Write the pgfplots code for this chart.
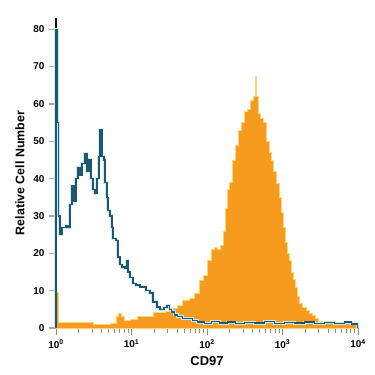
\documentclass[border=0pt]{standalone}
\usepackage{pgfplots}
\pgfplotsset{compat=1.18}
\usepackage{fontspec}
\setmainfont{Liberation Sans}
\definecolor{orfill}{RGB}{247,155,30}
\definecolor{oredge}{RGB}{245,215,120}
\definecolor{bline}{RGB}{30,88,108}
\definecolor{bglow}{RGB}{205,232,246}
\begin{document}
\begin{tikzpicture}
\path[use as bounding box] (-56bp,-47bp) rectangle (319bp,328bp);
\begin{axis}[
  at={(0,0)}, anchor=south west,
  scale only axis, width=302bp, height=310bp,
  xmode=log, xmin=1, xmax=10000, ymin=0, ymax=83,
  axis x line*=bottom, axis y line*=left,
  axis line style={black, line width=1.6bp},
  xtick={1,10,100,1000,10000},
  xticklabels={10\textsuperscript{0},10\textsuperscript{1},10\textsuperscript{2},10\textsuperscript{3},10\textsuperscript{4}},
  ytick={0,10,20,30,40,50,60,70,80},
  yticklabels={0,10,20,30,40,50,60,70,80},
  tick align=outside,
  major tick length=7bp, minor tick length=5bp,
  every tick/.style={black!45, line width=0.9bp},
  ytick style={black!35, line width=1.2bp},
  y tick label style={font=\bfseries\fontsize{10}{12}\selectfont, xshift=-1bp},
  x tick label style={font=\bfseries\fontsize{10}{12}\selectfont, yshift=-1bp},
  xlabel={\bfseries\fontsize{13}{15}\selectfont CD97},
  ylabel={\bfseries\fontsize{12.5}{15}\selectfont Relative Cell Number},
  xlabel style={yshift=-2bp},
  ylabel style={yshift=2bp},
  clip=false,
]
\addplot[const plot, fill=orfill, draw=oredge, line width=0.7bp] coordinates {
(1,0) (1,9.5) (1.079,1.6) (1.532,1.4) (2.077,1.5) (3.087,0.9) (3.819,1.0) (5.179,1.2) (6.219,3) (6.610,4) (7.241,3) (7.935,2) (9.524,2.3) (11.79,3) (17.52,3.2) (19.19,4.3) (27.66,4.5) (32.20,5.3) (41.10,6) (47.86,7.5) (59.23,8) (68.97,9.4) (80.32,12.8) (90.72,14) (102.5,18) (115.7,21) (126.8,21.5) (138.9,21) (152.2,22) (166.8,26) (177.3,32) (188.4,37) (200.3,39) (219.4,45) (240.4,49) (263.4,53) (288.6,55) (316.2,58) (346.5,58.5) (379.6,61) (415.9,62) (442.2,67.5) (455.8,62) (484.5,57.5) (514.8,56) (564.2,55) (618.1,50) (677.3,47) (719.6,45) (764.9,42) (838.0,38.8) (918.2,35) (975.9,31) (1037.3,27) (1102.4,23) (1171.7,20) (1245.3,18) (1323.4,15) (1406.6,13) (1494.9,11) (1588.8,8.5) (1688.5,6.7) (1850,5.5) (2090,4.8) (2290,4) (2508,3.5) (2749,2.5) (3012,1.8) (3402,1.4) (4210,1.2) (5710,1.4) (7745,1.1) (9016,1.3) (9878,0)
} \closedcycle;
\pgfplotstableread{
x y
1 0
1 80
1.047 55
1.079 30
1.129 25
1.200 27
1.356 27.5
1.441 27
1.532 33
1.627 38
1.730 34
1.839 40
1.954 43
2.077 41
2.208 44
2.418 46.8
2.571 42
2.733 45
2.904 40
3.087 37
3.281 36
3.486 40
3.706 46
3.819 53
4.059 46
4.314 45
4.447 39
4.727 35
4.873 31.5
5.179 30
5.505 27
5.675 24
6.219 23.5
6.610 19
7.025 17
7.465 16.3
8.178 16
8.695 18
8.964 15
9.524 13.6
10.43 12
11.43 11.5
12.91 11
14.15 11
15.50 10
17.52 9.4
19.19 7
21.68 5.6
23.76 5
26.83 5.5
29.40 6.1
32.20 5
34.22 4.3
37.51 3.5
41.10 3
47.86 2.6
55.72 2.6
64.91 2
75.56 1.6
93.5 1.2
115.7 1.7
147.7 1.3
188.4 1.6
240.4 1.2
316.2 1.5
428.8 1.3
581.6 1.7
788.5 1.2
1069 1.5
1450 1.3
1966 1.6
2666 1.2
3615 1.5
4903 1.2
6648 1.6
8229 1.1
9878 0
}\bluedata
\addplot[const plot, bglow, line width=3bp] table {\bluedata};
\addplot[const plot, bline, line width=1.3bp] table {\bluedata};
\end{axis}
\end{tikzpicture}
\end{document}
